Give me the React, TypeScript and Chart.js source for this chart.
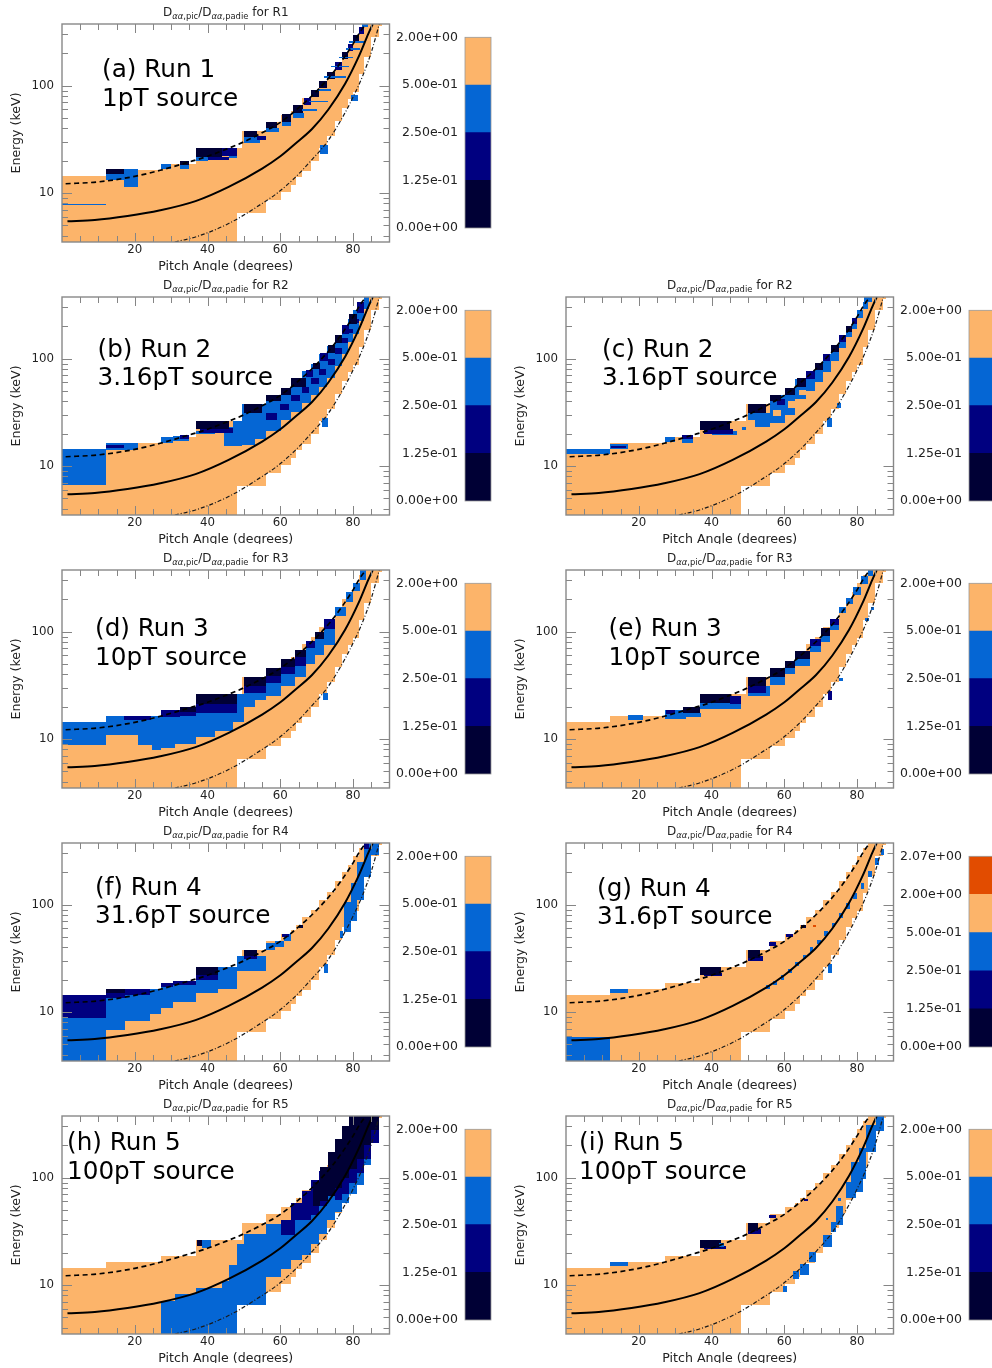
import React, { useEffect, useRef } from "react";
import { Chart, registerables } from "chart.js";

Chart.register(...registerables);

const FONT = "'DejaVu Sans', 'Liberation Sans', sans-serif";

// ---------------- data ----------------
const PANEL_LETTERS = ["a", "b", "c", "d", "e", "f", "g", "h", "i"];
const PANEL_RUNS = ["Run 1", "Run 2", "Run 2", "Run 3", "Run 3", "Run 4", "Run 4", "Run 5", "Run 5"];
const PANEL_SOURCES = [
  "1pT source", "3.16pT source", "3.16pT source", "10pT source", "10pT source",
  "31.6pT source", "31.6pT source", "100pT source", "100pT source",
];
const PANEL_TITLE_RUNS = ["R1", "R2", "R2", "R3", "R3", "R4", "R4", "R5", "R5"];

const PITCH_MIN = 0;
const PITCH_MAX = 90;
const ENERGY_MIN = 3.5;
const ENERGY_MAX = 375;

const X_TICK_LABELS = [20, 40, 60, 80];
const X_MINOR_TICKS = [5, 10, 15, 25, 30, 35, 45, 50, 55, 65, 70, 75, 85];
const Y_TICK_LABELS = [10, 100];
const Y_MINOR_TICKS = [4, 5, 6, 7, 8, 9, 20, 30, 40, 50, 60, 70, 80, 90, 200, 300];

// colour levels: 0 = 0-0.125, 1 = 0.125-0.25, 2 = 0.25-0.5, 3 = 0.5-2, 4 = 2-2.07
const LEVEL_COLORS = ["#000035", "#000080", "#0566d4", "#fcb46a", "#e24c00"];
const COLORBAR_LABELS = ["0.00e+00", "1.25e-01", "2.50e-01", "5.00e-01", "2.00e+00"];
const COLORBAR_LABELS_G = ["0.00e+00", "1.25e-01", "2.50e-01", "5.00e-01", "2.00e+00", "2.07e+00"];

// resonance curves (pitch angle deg, energy keV)
const SOLID_PA = [1.5, 9, 18, 27, 36.7, 45.8, 55, 60, 64.1, 68.7, 73.2, 77.8, 81.5, 84.2, 85.4];
const SOLID_E = [5.47, 5.6, 6.1, 6.9, 8.4, 11.4, 16.9, 22, 28.8, 39.5, 60, 104, 185, 305, 375];
const DASHED_PA = [1, 10, 20, 27, 35, 40, 45, 50, 55, 60, 65, 70, 74, 77, 80, 82, 83.5];
const DASHED_E = [12.2, 12.7, 14.3, 16.3, 19.5, 22, 25.5, 30, 36.5, 45.5, 62, 89, 126, 172, 245, 320, 375];
const DOTDASH_PA = [31, 36.7, 45.8, 55, 59.5, 64.1, 68.7, 73.2, 77.8, 80.5, 82.5, 85.1, 87.2];
const DOTDASH_E = [3.5, 3.9, 5.2, 8.0, 10.2, 14, 20.5, 31, 56, 85, 120, 210, 375];

// region with data (pitch-angle bin edges, bottom / top energies per bin)
const DOMAIN_EDGES = [0, 12, 27.1, 36.8, 48.2, 49.5, 56, 60.3, 63, 64.2, 66, 68.5, 70.5, 72.8, 75, 77, 78.7, 80, 81.5, 83, 85, 87, 88];
const DOMAIN_BOTTOM = [3.5, 3.5, 3.5, 3.5, 6.5, 6.5, 8.6, 10.3, 11.8, 14, 16.2, 20, 26.5, 34, 47, 62, 75, 87, 129, 185, 284, 360];
const DOMAIN_TOP = [14.3, 16.4, 18.5, 26, 26, 37.5, 46, 53, 58, 64, 76, 90, 110, 132, 165, 200, 235, 285, 340, 375, 375, 375];

// cells whose ratio is not in the 0.5-2 band: [pa0, pa1, E0, E1, level]
const CELLS_A = [
  [0, 12, 7.7, 7.95, 2], [12, 17, 13.2, 15.2, 2], [12, 17, 15.2, 16.6, 0], [17, 21, 11.3, 16.6, 2],
  [27.1, 30, 16.6, 18.5, 2], [32.3, 35, 16.8, 18.3, 2], [32.3, 35, 18.3, 19.8, 0],
  [36.8, 40, 20, 21.8, 2], [46, 48.2, 21, 22, 2], [40, 46, 20.5, 21.8, 1], [44, 48.2, 22, 26, 1], [36.8, 44, 21.8, 26, 0],
  [50, 54.5, 29.5, 33, 2], [53.5, 56, 31, 34, 1], [50, 53.5, 33, 38, 0],
  [56, 59.5, 37, 40, 2], [56, 59, 40, 46, 0], [60.5, 63, 42, 46, 2], [60.5, 63, 46, 54, 0],
  [63.5, 66.5, 50, 56, 2], [63.5, 66.2, 56, 66, 0], [66.5, 68.5, 66, 77, 1], [68.5, 70.5, 78, 91, 0],
  [70.5, 72.8, 95, 111, 0], [72.8, 75, 115, 133, 0], [75, 77, 140, 166, 1], [77, 78.7, 176, 204, 0],
  [78.7, 80, 210, 244, 1], [80, 81.5, 252, 295, 0], [81.5, 83, 300, 350, 1], [82.5, 84, 350, 375, 2],
  [66, 70, 58, 60, 2], [68, 73, 70, 72.5, 2], [70, 74, 90, 93, 2], [72, 78, 118, 122, 2],
  [74, 79, 148, 153, 2], [76, 80, 180, 186, 2], [78, 82, 215, 222, 2], [79, 83, 252, 258, 2],
  [71, 73, 23, 28, 2], [79.5, 81.3, 72, 82, 2],
];
const CELLS_B = [
  [0, 12, 6.6, 14.3, 2], [12, 21, 14, 16.5, 2], [12, 17, 14.6, 15.6, 1],
  [27.1, 30.5, 16.5, 18.5, 2], [30.5, 35, 17, 19, 2], [32.5, 35, 18, 19.5, 1],
  [44.5, 47, 15.5, 23, 2], [47, 49.5, 15.5, 26, 2], [49.5, 53, 15.8, 37.5, 2], [53, 56, 18, 37.5, 2],
  [56, 60.3, 21.4, 46, 2], [60.3, 63, 27, 53, 2], [63, 66, 32, 64, 2], [66, 68.5, 39, 76, 2],
  [68.5, 70.5, 46, 90, 2], [70.5, 72.8, 54, 110, 2], [72.8, 75, 66, 132, 2], [75, 77, 86, 165, 2],
  [77, 78.7, 110, 200, 2], [78.7, 80, 142, 235, 2], [80, 81.5, 170, 285, 2], [81.5, 83, 222, 340, 2],
  [83, 84.5, 290, 375, 2], [36.8, 42, 19.8, 21, 2], [71.5, 73, 23, 28, 2],
  [38, 47, 20.5, 22.5, 1], [56, 59, 27, 31, 1], [60, 62.5, 33, 38, 1], [63, 65.5, 40, 46, 1],
  [66, 68, 48, 55, 1], [68.5, 70.5, 58, 66, 1], [70.5, 72.5, 70, 80, 1], [73, 75, 88, 100, 1],
  [75, 77, 110, 125, 1], [77, 78.7, 140, 155, 1], [78.7, 80, 175, 190, 1], [80, 81.5, 215, 235, 1],
  [36.8, 46, 22, 26.5, 0], [50, 55, 31, 38, 0], [56, 60.3, 40, 46, 0], [60.3, 63, 46, 53, 0],
  [63, 67, 55, 66, 0], [67, 69, 68, 78, 1], [69, 71, 80, 92, 0], [71, 73, 95, 112, 1],
  [73, 75, 112, 134, 0], [75, 77, 140, 166, 0], [77, 79, 170, 205, 1], [79, 81, 210, 262, 0],
  [81, 83, 265, 335, 1],
];
const CELLS_C = [
  [0, 12, 13, 14.3, 2], [12, 17, 14.3, 16, 2], [12.5, 16.5, 14.7, 15.4, 1],
  [27.1, 30, 16.8, 18.5, 2], [32, 35, 16.5, 19.5, 2], [32, 35, 18, 19.5, 1],
  [40, 47, 19.5, 21, 2], [38, 46, 20, 22, 1], [36.8, 45, 21.5, 26.5, 0], [48.5, 49.5, 21.5, 23, 2],
  [52, 56, 23, 29, 2], [50, 56, 27, 31, 2], [50, 55, 31, 38, 0],
  [56, 60.3, 25, 46, 2], [57, 59, 29, 33, 3], [58, 60.3, 37, 42, 1], [56, 59, 40, 46, 0],
  [60.3, 63, 30, 53, 2], [61, 63, 35, 40, 3], [60.3, 63, 46, 53, 0],
  [63, 66, 42, 64, 2], [64, 66, 46, 51, 3], [63.5, 66.5, 55, 66, 0],
  [66, 68.5, 50, 76, 2], [66, 68.5, 64, 77, 1], [68.5, 70.5, 60, 90, 2], [68.5, 70.5, 78, 91, 0],
  [70.5, 72.8, 75, 110, 2], [70.5, 72.5, 95, 111, 1], [72.8, 75, 95, 132, 2], [72.8, 75, 115, 133, 0],
  [75, 77, 125, 165, 2], [75, 77, 142, 166, 1], [77, 78.7, 160, 200, 2], [77, 78.7, 178, 202, 0],
  [78.7, 80, 190, 235, 2], [78.7, 80, 212, 238, 1], [80, 81.5, 240, 285, 2], [81.5, 83, 290, 340, 2],
  [82, 84, 340, 375, 2], [71.8, 73.2, 23, 28, 2], [74.6, 75.5, 35, 39, 2],
];
const CELLS_D = [
  [0, 12, 8.8, 14.3, 2], [12, 21, 10.9, 16.4, 2], [21, 24.7, 8.8, 16.4, 2], [24.7, 27.1, 7.9, 16.4, 2],
  [27.1, 31, 8.2, 18.5, 2], [31, 36.8, 8.9, 18.5, 2], [36.8, 42, 10.5, 26, 2], [42, 47, 12, 26, 2],
  [47, 50, 14.5, 26, 2], [50, 53, 20, 37.5, 2], [53, 56, 23, 37.5, 2], [56, 60.3, 25, 46, 2],
  [60.3, 64, 31, 56, 2], [64, 67, 38, 68, 2], [67, 69.5, 50, 82, 2], [69.5, 72, 60, 100, 2],
  [72, 75, 75, 130, 2], [75, 78, 140, 170, 2], [78, 80, 190, 232, 2], [80, 82, 240, 285, 2],
  [82, 83.5, 300, 375, 2], [71.7, 73.1, 23, 27, 2],
  [17, 24.5, 15, 16.4, 1], [27.1, 32.5, 16, 18.5, 1], [32.5, 36.8, 16.5, 18, 1], [36.8, 48.2, 17.5, 21, 1],
  [50, 56, 27, 31, 1], [56, 60.3, 33, 39, 1], [60.3, 64, 40, 47, 1], [64, 67, 48, 58, 1],
  [67, 69.5, 70, 82, 1], [72, 75, 105, 130, 1],
  [32.5, 36.8, 18, 20, 0], [36.8, 48.2, 21, 26, 0], [50, 56, 31, 38, 0], [56, 60.3, 39, 46, 0],
  [60.3, 64, 47, 56, 0], [64, 67, 58, 68, 0], [69.5, 72, 85, 100, 0],
];
const CELLS_E = [
  [17, 21.2, 15.2, 16.6, 2], [27.1, 33, 15.5, 18.5, 2], [27.5, 30, 17.2, 18.5, 1],
  [32, 37, 16, 17.5, 2], [32.2, 36.7, 17.5, 19.8, 0], [36.8, 48.2, 19, 21.5, 2],
  [45, 48.2, 21, 25, 1], [36.8, 45, 21.5, 26.5, 0],
  [50, 56, 25, 31, 2], [50, 55, 27, 31, 1], [50, 55, 31, 38, 0],
  [56, 60.3, 32, 38, 2], [56, 60.3, 38, 46, 0], [60.3, 63, 40, 46, 2], [60.3, 63, 46, 53, 0],
  [63, 67, 48, 56, 2], [63, 67, 56, 66, 0], [67, 70, 64, 74, 2], [67, 70, 74, 86, 1],
  [70, 72.5, 80, 92, 2], [70, 72.5, 92, 108, 0], [72.5, 75, 104, 115, 2], [72.5, 75, 115, 132, 1],
  [75, 77, 150, 170, 2], [77, 79, 180, 205, 2], [79, 81, 220, 262, 2], [81, 83, 280, 332, 2],
  [83, 84.5, 332, 375, 2], [71.9, 73.2, 23, 28, 1], [75, 76, 35, 37, 2],
  [82.3, 83.3, 125, 135, 2], [83.7, 84.7, 160, 170, 2],
];
const CELLS_F = [
  [0, 12, 3.5, 8.8, 2], [0, 12, 8.8, 14.3, 1], [12, 17.4, 6.8, 13.5, 2], [12, 17.4, 13.5, 15.2, 1],
  [12, 17.4, 15.2, 16.5, 0], [17.4, 24.2, 8.2, 14.5, 2], [17.4, 24.2, 14.5, 16.5, 1],
  [24.2, 27.1, 9.5, 16.5, 2], [27.1, 30.5, 11, 17, 2], [27.1, 30.5, 17, 18.5, 1],
  [30.5, 36.8, 12.5, 17.8, 2], [30.5, 36.8, 17.8, 19.5, 1], [36.8, 43, 15, 20, 2],
  [36.8, 43, 20, 22, 1], [36.8, 43, 22, 26, 0], [43, 48.2, 16.5, 26, 2],
  [48.2, 56, 24, 33, 2], [50, 53.5, 31, 33, 1], [50, 53.5, 33, 38, 0],
  [56, 58.5, 38, 44, 2], [58.5, 61, 40, 46, 2], [61, 63, 46, 53, 2], [60.5, 62.3, 50, 53, 1],
  [65, 66.3, 60, 64, 0], [72, 73.2, 23, 28, 2], [76.3, 77.3, 49, 57, 2],
  [77.5, 79.5, 56, 105, 2], [79.5, 81, 70, 160, 2], [81, 83, 110, 250, 2], [83, 85, 180, 375, 2],
  [85, 87, 290, 375, 2], [83, 84.5, 330, 375, 1],
];
const CELLS_G = [
  [0, 12, 3.5, 5.8, 2], [12, 17, 15, 16.3, 2], [38, 43, 21.5, 23, 1], [36.8, 42.6, 22, 26, 0],
  [50, 54, 30, 33, 1], [50, 53.2, 32, 38, 0], [55.9, 57.7, 41, 45, 1], [60.5, 62.3, 50, 53, 1],
  [64.6, 66, 60, 64, 0], [68, 68.6, 62, 64, 4],
  [55, 56, 16.5, 18, 2], [57, 58, 18, 19.5, 2], [59, 60, 20, 22, 2], [61, 62, 23, 25, 2],
  [63, 64, 27, 29.5, 2], [65, 66, 31, 34, 2], [67, 68, 36, 40, 2], [69, 70, 43, 47, 2],
  [71, 72, 51, 57, 2], [73, 74, 62, 68, 2], [75, 76, 75, 83, 2], [77, 78, 92, 104, 2],
  [79, 80, 112, 128, 2], [81, 82, 140, 160, 2], [83, 84, 180, 205, 2], [85, 86, 235, 270, 2],
  [86.5, 87.5, 290, 330, 2], [71.9, 73.2, 23, 28, 2],
];
const CELLS_H = [
  [27.1, 31, 3.5, 7.1, 2], [31, 36.8, 3.5, 8.2, 2], [36.8, 44, 3.5, 9.4, 2], [44, 48.2, 3.5, 11, 2],
  [46, 48.2, 11, 15.5, 2], [48.2, 50, 6.5, 24, 2], [50, 56, 6.5, 30, 2], [56, 60.3, 12, 37, 2],
  [60.3, 63, 14, 38, 2], [63, 66, 17, 40, 2], [66, 68.5, 19, 45, 2], [68.5, 70.5, 24, 55, 2],
  [70.5, 72.8, 30, 62, 2], [72.8, 75, 40, 75, 2], [75, 77, 48, 85, 2], [77, 79, 58, 100, 2],
  [79, 81, 70, 130, 2], [81, 83, 85, 150, 2], [83, 85, 130, 200, 2],
  [37, 38.5, 23, 26, 0], [38.5, 41, 22, 26, 2],
  [60.3, 64, 29, 40, 1], [63, 66, 40, 58, 1], [66, 68.5, 40, 75, 1], [68.5, 70.5, 45, 96, 1],
  [70.5, 72.8, 55, 115, 1], [75, 77, 62, 80, 1], [77, 79, 70, 100, 1], [79, 81, 90, 120, 1],
  [81, 83, 110, 150, 1], [83, 85, 150, 200, 1], [85, 87, 210, 280, 1],
  [69, 71, 55, 92, 0], [71, 73, 60, 125, 0], [73, 75, 68, 175, 0], [75, 77, 80, 230, 0],
  [77, 79, 100, 300, 0], [79, 81, 120, 375, 0], [81, 83, 150, 375, 0], [83, 85, 200, 375, 0],
  [85, 87, 280, 375, 0],
];
const CELLS_I = [
  [12, 17, 15, 16.3, 2], [38, 44, 21.5, 23, 1], [36.8, 42.6, 22, 26, 0], [42, 43.5, 22.5, 24.5, 2],
  [50, 53.5, 30, 33, 1], [50, 52.7, 32, 38, 0], [55.9, 57.7, 42, 44.5, 1], [65.5, 66.4, 60, 63.5, 1],
  [59.5, 60.6, 8.6, 9.9, 2], [62.3, 64.1, 11.5, 13.5, 2], [64.2, 66.9, 12.3, 15.8, 2],
  [66.9, 68.7, 16.5, 20.4, 2], [70.5, 73.2, 22.8, 29.2, 2], [72.8, 74.2, 31, 39, 2],
  [74.2, 76, 36, 55, 2], [74.8, 75.6, 60, 65, 2], [71.4, 72, 40, 42, 2], [76.9, 79.6, 64, 92, 2],
  [78.2, 81.5, 74, 141, 2], [80.5, 82.4, 98, 188, 2], [82.4, 85.1, 175, 310, 2], [85.1, 87.4, 270, 375, 2],
];
const PANEL_CELLS = [CELLS_A, CELLS_B, CELLS_C, CELLS_D, CELLS_E, CELLS_F, CELLS_G, CELLS_H, CELLS_I];

// ---------------- layout (not data) ----------------
const PANEL_ROW = [0, 1, 1, 2, 2, 3, 3, 4, 4];
const PANEL_COL = [0, 0, 1, 0, 1, 0, 1, 0, 1];
const ROW_TOP = [0, 273, 546, 819, 1092];
const COL_LEFT = [0, 504];
const LABEL_X = [102, 97.5, 98, 95, 104.5, 95, 93, 67, 75];
const LABEL_Y = [77, 83.6, 83.6, 90, 90, 75.7, 76.7, 58.3, 58.3];
const MAIN_W = 392;
const BAR_W = 104;
const PANEL_H = 271;

function curve(xs: number[], ys: number[]) {
  return xs.map((x, k) => ({ x, y: ys[k] }));
}

function mainConfig(i: number): any {
  const cells = PANEL_CELLS[i];
  const plugin = {
    id: "heat" + i,
    beforeDatasetsDraw(chart: any) {
      const { ctx, chartArea: a, scales } = chart;
      const xs = scales.x;
      const ys = scales.y;
      ctx.save();
      ctx.beginPath();
      ctx.rect(a.left, a.top, a.right - a.left, a.bottom - a.top);
      ctx.clip();
      const fill = (p0: number, p1: number, e0: number, e1: number, lvl: number) => {
        const x0 = Math.round(xs.getPixelForValue(p0));
        const x1 = Math.round(xs.getPixelForValue(p1));
        const y0 = Math.round(ys.getPixelForValue(e1));
        const y1 = Math.round(ys.getPixelForValue(e0));
        ctx.fillStyle = LEVEL_COLORS[lvl];
        ctx.fillRect(x0, y0, x1 - x0, y1 - y0);
      };
      for (let k = 0; k < DOMAIN_BOTTOM.length; k++) {
        fill(DOMAIN_EDGES[k], DOMAIN_EDGES[k + 1], DOMAIN_BOTTOM[k], DOMAIN_TOP[k], 3);
      }
      for (const c of cells) fill(c[0], c[1], c[2], c[3], c[4]);
      ctx.restore();
    },
    afterDraw(chart: any) {
      const { ctx, chartArea: a, scales } = chart;
      const xs = scales.x;
      const ys = scales.y;
      ctx.save();
      // inward ticks on all four sides
      ctx.strokeStyle = "#858585";
      ctx.lineWidth = 1;
      ctx.beginPath();
      const hTick = (v: number, len: number) => {
        const py = Math.round(ys.getPixelForValue(v)) + 0.5;
        ctx.moveTo(a.left, py); ctx.lineTo(a.left + len, py);
        ctx.moveTo(a.right, py); ctx.lineTo(a.right - len, py);
      };
      const vTick = (v: number, len: number) => {
        const px = Math.round(xs.getPixelForValue(v)) + 0.5;
        ctx.moveTo(px, a.bottom); ctx.lineTo(px, a.bottom - len);
        ctx.moveTo(px, a.top); ctx.lineTo(px, a.top + len);
      };
      Y_MINOR_TICKS.forEach((v) => hTick(v, 6));
      Y_TICK_LABELS.forEach((v) => hTick(v, 10));
      X_MINOR_TICKS.forEach((v) => vTick(v, 6));
      X_TICK_LABELS.forEach((v) => vTick(v, 9));
      ctx.stroke();
      ctx.lineWidth = 1.4;
      ctx.strokeStyle = "#888888";
      ctx.strokeRect(a.left, a.top, a.right - a.left, a.bottom - a.top);

      // title with subscripts
      const big = `12px ${FONT}`;
      const small = `8.4px ${FONT}`;
      const smallIt = `italic 8.4px ${FONT}`;
      const parts = [
        { t: "D", f: big, dy: 0 },
        { t: "\u03b1\u03b1", f: smallIt, dy: 3 },
        { t: ",pic", f: small, dy: 3 },
        { t: "/D", f: big, dy: 0 },
        { t: "\u03b1\u03b1", f: smallIt, dy: 3 },
        { t: ",padie", f: small, dy: 3 },
        { t: " for " + PANEL_TITLE_RUNS[i], f: big, dy: 0 },
      ];
      let total = 0;
      const widths = parts.map((p) => {
        ctx.font = p.f;
        const w = ctx.measureText(p.t).width;
        total += w;
        return w;
      });
      let tx = (a.left + a.right) / 2 - total / 2;
      ctx.fillStyle = "#222";
      ctx.textBaseline = "alphabetic";
      ctx.textAlign = "left";
      parts.forEach((p, k) => {
        ctx.font = p.f;
        ctx.fillText(p.t, tx, 15.5 + p.dy);
        tx += widths[k];
      });

      // panel label
      ctx.fillStyle = "#000";
      ctx.font = `24.7px ${FONT}`;
      ctx.fillText(`(${PANEL_LETTERS[i]}) ${PANEL_RUNS[i]}`, LABEL_X[i], LABEL_Y[i]);
      ctx.fillText(PANEL_SOURCES[i], LABEL_X[i], LABEL_Y[i] + 28.5);
      ctx.restore();
    },
  };

  return {
    type: "line",
    data: {
      datasets: [
        {
          data: curve(SOLID_PA, SOLID_E),
          borderColor: "#000",
          borderWidth: 2,
          pointRadius: 0,
          cubicInterpolationMode: "monotone",
        },
        {
          data: curve(DASHED_PA, DASHED_E),
          borderColor: "#000",
          borderWidth: 1.7,
          borderDash: [5, 3.5],
          pointRadius: 0,
          cubicInterpolationMode: "monotone",
        },
        {
          data: curve(DOTDASH_PA, DOTDASH_E),
          borderColor: "#1a1a1a",
          borderWidth: 1.2,
          borderDash: [4, 2, 1, 2],
          pointRadius: 0,
          cubicInterpolationMode: "monotone",
        },
      ],
    },
    options: {
      animation: false,
      responsive: false,
      maintainAspectRatio: false,
      layout: { padding: { top: 24, right: 2.5, left: 0, bottom: 0 } },
      plugins: { legend: { display: false }, tooltip: { enabled: false }, title: { display: false } },
      scales: {
        x: {
          type: "linear",
          min: PITCH_MIN,
          max: PITCH_MAX,
          grid: { display: false, drawTicks: false, tickLength: 0 },
          border: { display: false },
          ticks: {
            font: { family: FONT, size: 11.8 },
            color: "#222",
            padding: 1,
            maxRotation: 0,
            autoSkip: false,
            callback: (v: any) => String(v),
          },
          afterBuildTicks: (s: any) => {
            s.ticks = X_TICK_LABELS.map((v) => ({ value: v }));
          },
          afterFit: (s: any) => {
            s.height = PANEL_H - 242;
          },
          title: {
            display: true,
            text: "Pitch Angle (degrees)",
            font: { family: FONT, size: 12.6, lineHeight: 0.7 },
            color: "#222",
            padding: { top: 0, bottom: 0 },
          },
        },
        y: {
          type: "logarithmic",
          min: ENERGY_MIN,
          max: ENERGY_MAX,
          grid: { display: false, drawTicks: false, tickLength: 0 },
          border: { display: false },
          ticks: {
            font: { family: FONT, size: 11.8 },
            color: "#222",
            padding: 8,
            autoSkip: false,
            callback: (v: any) => String(v),
          },
          afterBuildTicks: (s: any) => {
            s.ticks = Y_TICK_LABELS.map((v) => ({ value: v }));
          },
          afterFit: (s: any) => {
            s.width = 62;
          },
          title: {
            display: true,
            text: "Energy (keV)",
            font: { family: FONT, size: 12.6, lineHeight: 0.94 },
            color: "#222",
            padding: { top: 11.2, bottom: 0 },
          },
        },
      },
    },
    plugins: [plugin],
  };
}

function barConfig(i: number): any {
  const labels = PANEL_LETTERS[i] === "g" ? COLORBAR_LABELS_G : COLORBAR_LABELS;
  const nBands = labels.length - 1;
  const levels = Array.from({ length: nBands }, (_, k) => k);
  const outline = {
    id: "cbOutline" + i,
    afterDraw(chart: any) {
      const { ctx, chartArea: a } = chart;
      ctx.save();
      ctx.strokeStyle = "#9a9a9a";
      ctx.lineWidth = 0.8;
      ctx.strokeRect(a.left, a.top, a.right - a.left, a.bottom - a.top);
      ctx.restore();
    },
  };
  return {
    type: "bar",
    data: {
      labels: [""],
      datasets: levels.map((lvl) => ({
        data: [1],
        backgroundColor: LEVEL_COLORS[lvl],
        borderWidth: 0,
        barPercentage: 1,
        categoryPercentage: 1,
      })),
    },
    options: {
      animation: false,
      responsive: false,
      maintainAspectRatio: false,
      layout: { padding: { top: 37.3, bottom: PANEL_H - 228, left: 0, right: BAR_W - 99 } },
      plugins: { legend: { display: false }, tooltip: { enabled: false } },
      scales: {
        x: { display: false, stacked: true },
        y: {
          stacked: true,
          min: 0,
          max: nBands,
          grid: { display: false, drawTicks: false, tickLength: 0 },
          border: { display: false },
          ticks: {
            font: { family: FONT, size: 12.5 },
            color: "#222",
            padding: 7,
            autoSkip: false,
            callback: (v: any) => labels[Math.round(v)] ?? "",
          },
          afterBuildTicks: (s: any) => {
            s.ticks = labels.map((_, k) => ({ value: k }));
          },
          afterFit: (s: any) => {
            s.width = 73;
          },
        },
      },
    },
    plugins: [outline],
  };
}

function Panel({ index }: { index: number }) {
  const mainRef = useRef<HTMLCanvasElement>(null);
  const barRef = useRef<HTMLCanvasElement>(null);
  useEffect(() => {
    const main = new Chart(mainRef.current as HTMLCanvasElement, mainConfig(index));
    const bar = new Chart(barRef.current as HTMLCanvasElement, barConfig(index));
    return () => {
      main.destroy();
      bar.destroy();
    };
  }, [index]);
  const top = ROW_TOP[PANEL_ROW[index]];
  const left = COL_LEFT[PANEL_COL[index]];
  return (
    <>
      <canvas
        ref={mainRef}
        width={MAIN_W}
        height={PANEL_H}
        style={{ position: "absolute", left, top, width: MAIN_W, height: PANEL_H }}
      />
      <canvas
        ref={barRef}
        width={BAR_W}
        height={PANEL_H}
        style={{ position: "absolute", left: left + MAIN_W, top, width: BAR_W, height: PANEL_H }}
      />
    </>
  );
}

export default function App() {
  return (
    <div
      style={{
        position: "absolute",
        left: 0,
        top: 0,
        width: 992,
        height: 1368,
        overflow: "hidden",
        background: "#fff",
        fontFamily: FONT,
      }}
    >
      {PANEL_LETTERS.map((_, k) => (
        <Panel key={k} index={k} />
      ))}
    </div>
  );
}
